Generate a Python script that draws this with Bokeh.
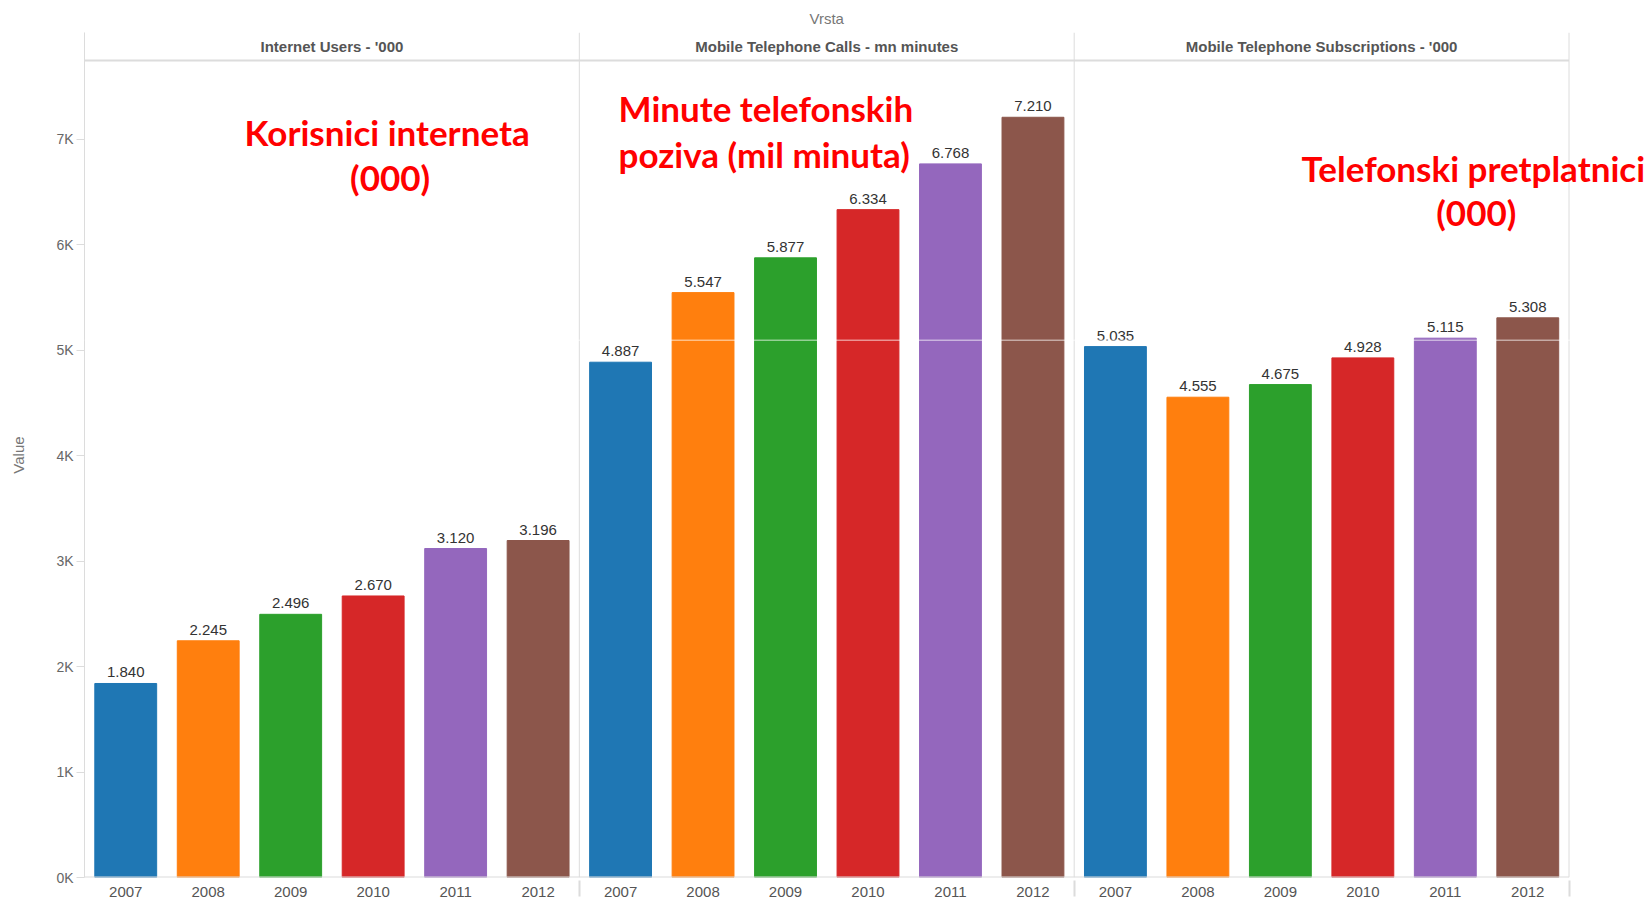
from bokeh.plotting import figure
from bokeh.models import FactorRange, Range1d, Label, Span, ColumnDataSource, FixedTicker
from bokeh.transform import dodge
from bokeh.core.properties import value
from bokeh.embed import file_html
from bokeh.resources import INLINE

# ---------------- data ----------------
panels = ["Internet Users - '000",
          "Mobile Telephone Calls - mn minutes",
          "Mobile Telephone Subscriptions - '000"]
years = ["2007", "2008", "2009", "2010", "2011", "2012"]
internet_users = [1840, 2245, 2496, 2670, 3120, 3196]
phone_calls = [4887, 5547, 5877, 6334, 6768, 7210]
phone_subscriptions = [5035, 4555, 4675, 4928, 5115, 5308]
year_colors = ["#1f77b4", "#ff7f0e", "#2ca02c", "#d62728", "#9467bd", "#8c564b"]
y_ticks = [0, 1000, 2000, 3000, 4000, 5000, 6000, 7000]
y_tick_labels = ["0K", "1K", "2K", "3K", "4K", "5K", "6K", "7K"]
annotation_lines = [["Korisnici interneta", "(000)"],
                    ["Minute telefonskih", "poziva (mil minuta)"],
                    ["Telefonski pretplatnici", "(000)"]]
series = [internet_users, phone_calls, phone_subscriptions]

# ---------------- layout constants ----------------
Y_TOP = 8014
HEADER_BOTTOM = 7748
FONT = "Liberation Sans"
GRID = "#dcdcdc"

factors = [(pn, y) for pn in panels for y in years]
# a blank trailing slot keeps room on the right for the overhanging annotation
spacer = (" ", " ")
x_range = FactorRange(factors=factors + [spacer], range_padding=0,
                      group_padding=0, factor_padding=0)

p = figure(width=1651, height=902, x_range=x_range, y_range=Range1d(0, Y_TOP),
           output_backend="svg", toolbar_location=None,
           min_border_left=84, min_border_right=0, min_border_top=32, min_border_bottom=24)

p.title.text = "Vrsta"
p.title.align = "left"
p.title.offset = 725
p.title.text_font = FONT
p.title.text_font_size = "15px"
p.title.text_font_style = "normal"
p.title.text_color = "#777777"
p.title.standoff = 11

p.outline_line_color = None
p.xgrid.grid_line_color = None
p.ygrid.grid_line_color = None
p.background_fill_color = "white"
p.border_fill_color = "white"

# bars
bar_src = ColumnDataSource(dict(
    x=factors,
    top=[v for s in series for v in s],
    color=[c for _ in panels for c in year_colors],
    label=[f"{v:,}".replace(",", ".") for s in series for v in s],
))
p.vbar(x="x", top="top", width=0.75, bottom=0, fill_color="color", line_color="color",
       source=bar_src)
p.text(x="x", y="top", text="label", source=bar_src, text_align="center",
       text_baseline="bottom", y_offset=-6, text_font=value(FONT),
       text_font_size="15px", text_color="#333333")

# faint white line present in the original picture
p.add_layout(Span(location=5096, dimension="width", line_color="white",
                  line_width=1, line_alpha=0.75))

# panel frame lines
first_src = ColumnDataSource(dict(f=[(pn, years[0]) for pn in panels]))
last_src = ColumnDataSource(dict(f=[(panels[-1], years[-1])]))
p.segment(x0=dodge("f", -0.5, range=x_range), x1=dodge("f", -0.5, range=x_range),
          y0=0, y1=Y_TOP, line_color=GRID, line_width=1, source=first_src)
p.segment(x0=dodge("f", 0.5, range=x_range), x1=dodge("f", 0.5, range=x_range),
          y0=0, y1=Y_TOP, line_color=GRID, line_width=1, source=last_src)
span_src = ColumnDataSource(dict(a=[factors[0]], b=[factors[-1]]))
p.segment(x0=dodge("a", -0.5, range=x_range), x1=dodge("b", 0.5, range=x_range),
          y0=HEADER_BOTTOM, y1=HEADER_BOTTOM, line_color=GRID, line_width=2,
          source=span_src)
p.segment(x0=dodge("a", -0.5, range=x_range), x1=dodge("b", 0.5, range=x_range),
          y0=0, y1=0, line_color=GRID, line_width=2, source=span_src)

# panel headers (a bare group name maps to the centre of the group)
head_src = ColumnDataSource(dict(g=panels))
p.text(x="g", y=(HEADER_BOTTOM + Y_TOP) / 2, text="g",
       source=head_src, text_align="center", text_baseline="middle",
       text_font=value(FONT), text_font_size="15px", text_font_style="bold",
       text_color="#555555")

# axes
xa = p.xaxis[0]
xa.major_label_text_font = FONT
xa.major_label_text_font_size = "15px"
xa.major_label_text_color = "#555555"
xa.major_label_standoff = 5
xa.major_tick_line_color = None
xa.major_tick_out = 0
xa.axis_line_color = None
xa.group_text_font_size = "0px"
xa.group_text_color = None
xa.separator_line_color = GRID

ya = p.yaxis[0]
ya.ticker = FixedTicker(ticks=y_ticks)
ya.major_label_overrides = dict(zip(y_ticks, y_tick_labels))
ya.major_label_text_font = FONT
ya.major_label_text_font_size = "14px"
ya.major_label_text_color = "#666666"
ya.major_tick_line_color = GRID
ya.major_tick_out = 8
ya.major_tick_in = 0
ya.minor_tick_line_color = None
ya.axis_line_color = GRID
ya.major_label_standoff = 3
ya.axis_label = "Value"
ya.axis_label_text_font = FONT
ya.axis_label_text_font_size = "15px"
ya.axis_label_text_font_style = "normal"
ya.axis_label_text_color = "#777777"
ya.axis_label_standoff = 26

# red annotations (x given as the synthetic position of a category centre)
flat = factors + [spacer]
def centre(fac):
    return flat.index(fac) + 0.5

ann_specs = [
    # (factor, x_offset line1, align, y line1, y line2, x_offset line2)
    ((panels[0], years[3]), 14, "center", 7067, 6641, 17),
    ((panels[1], years[0]), -2, "left", 7295, 6859, -2),
    ((panels[2], years[4]), 28, "center", 6732, 6310, 31),
]
for (fac, xo1, align, y1, y2, xo2), lines in zip(ann_specs, annotation_lines):
    for txt, yy, xo in ((lines[0], y1, xo1), (lines[1], y2, xo2)):
        p.add_layout(Label(x=centre(fac), y=yy, x_offset=xo, text=txt, text_align=align,
                           text_baseline="middle", text_font="Lato",
                           text_font_size="35px", text_font_style="bold",
                           text_color="#ff0000"))

open("out.html", "w").write(file_html(p, INLINE))
